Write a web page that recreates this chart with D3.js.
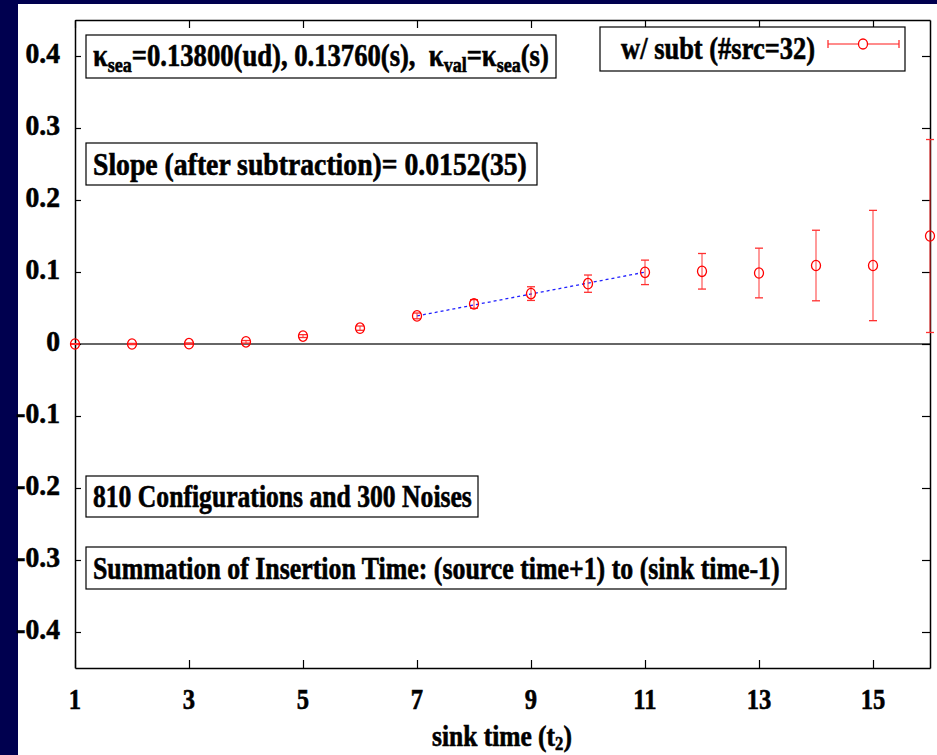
<!DOCTYPE html>
<html><head><meta charset="utf-8">
<script src="https://cdn.jsdelivr.net/npm/d3@7"></script>
<style>
html,body{margin:0;padding:0;background:#00004f;}
svg{display:block;}
text{font-family:"Liberation Serif","Times New Roman",serif;font-weight:bold;fill:#000;stroke:#000;stroke-width:0.6px;}
</style></head>
<body>
<svg id="chart" width="937" height="755"></svg>
<script>
// ---- data ----
const sinkTimes = [1,2,3,4,5,6,7,8,9,10,11,12,13,14,15,16];
const values    = [0,0,0.0005,0.003,0.011,0.022,0.039,0.0556,0.070,0.0838,0.0995,0.101,0.0986,0.109,0.109,0.150];
const errors    = [0.0005,0.0008,0.001,0.0018,0.002,0.003,0.004,0.006,0.0095,0.012,0.017,0.0247,0.0345,0.049,0.0766,0.134];
const fitT      = [7,11];
const fitV      = [0.039,0.0998];
const xTicks    = [1,3,5,7,9,11,13,15];
const yTicks    = [-0.4,-0.3,-0.2,-0.1,0,0.1,0.2,0.3,0.4];
const yTickLabels = ["-0.4","-0.3","-0.2","-0.1","0","0.1","0.2","0.3","0.4"];
const legendLabel = "w/ subt (#src=32)";
const slopeLabel  = "Slope (after subtraction)= 0.0152(35)";
const configLabel = "810 Configurations and 300 Noises";
const sumLabel    = "Summation of Insertion Time: (source time+1) to (sink time-1)";
const xTitle = "sink time (t";

const svg = d3.select("#chart");
svg.append("rect").attr("x",18).attr("y",4).attr("width",919).attr("height",751).attr("fill","#fff");

const L=75,R=930,T=20,B=668;
const x = d3.scaleLinear().domain([1,16]).range([L,R]);
const y = d3.scaleLinear().domain([-0.45,0.45]).range([B,T]);

// zero line
svg.append("line").attr("x1",L).attr("x2",R).attr("y1",y(0)).attr("y2",y(0))
  .attr("stroke","#333").attr("stroke-width",1.6);

// axes (frame) with inward ticks
const axG = svg.append("g");
axG.append("g").attr("transform",`translate(0,${B})`)
  .call(d3.axisBottom(x).tickValues(xTicks).tickSizeInner(-8).tickSizeOuter(0).tickFormat(""));
axG.append("g").attr("transform",`translate(0,${T})`)
  .call(d3.axisTop(x).tickValues(xTicks).tickSizeInner(-8).tickSizeOuter(0).tickFormat(""));
axG.append("g").attr("transform",`translate(${L},0)`)
  .call(d3.axisLeft(y).tickValues(yTicks).tickSizeInner(-6).tickSizeOuter(0).tickFormat(""));
axG.append("g").attr("transform",`translate(${R},0)`)
  .call(d3.axisRight(y).tickValues(yTicks).tickSizeInner(-8).tickSizeOuter(0).tickFormat(""));
axG.selectAll(".domain").attr("stroke","#000").attr("stroke-width",1.5);
axG.selectAll(".tick line").attr("stroke","#000").attr("stroke-width",1.2);

// fit condensed text horizontally
function fit(node, w, anchor){
  const cur = node.getBBox();
  const s = w / cur.width;
  const ax = anchor==="middle" ? cur.x+cur.width/2 : anchor==="end" ? cur.x+cur.width : cur.x;
  d3.select(node).attr("transform",`translate(${ax},0) scale(${s},1) translate(${-ax},0)`);
}

// tick labels
svg.selectAll(".xl").data(xTicks).enter().append("text")
  .attr("x",d=>x(d)).attr("y",709).attr("text-anchor","middle")
  .style("font-size","30px").text(d=>d)
  .each(function(){ fit(this, this.getComputedTextLength()*0.82, "middle"); });
svg.selectAll(".yl").data(yTicks).enter().append("text")
  .attr("x",60).attr("y",d=>y(d)+7).attr("text-anchor","end")
  .style("font-size","30px").text((d,i)=>yTickLabels[i])
  .each(function(){ fit(this, this.getComputedTextLength()*0.92, "end"); });

// boxes with text
function box(x0,y0,w,h){
  svg.append("rect").attr("x",x0).attr("y",y0).attr("width",w).attr("height",h)
    .attr("fill","#fff").attr("stroke","#000").attr("stroke-width",1.2);
}
box(86,35,470,43);
const kt = svg.append("text").attr("x",93).attr("y",66).style("font-size","31px");
kt.append("tspan").text("κ");
kt.append("tspan").attr("dy",6).style("font-size","21px").text("sea");
kt.append("tspan").attr("dy",-6).text("=0.13800(ud), 0.13760(s),\u00a0 κ");
kt.append("tspan").attr("dy",6).style("font-size","21px").text("val");
kt.append("tspan").attr("dy",-6).text("=κ");
kt.append("tspan").attr("dy",6).style("font-size","21px").text("sea");
kt.append("tspan").attr("dy",-6).text("(s)");
fit(kt.node(),456,"start");

box(86,143,451,42);
fit(svg.append("text").attr("x",93).attr("y",175).style("font-size","31px").text(slopeLabel).node(),434,"start");
box(86,476,392,41);
fit(svg.append("text").attr("x",93).attr("y",507).style("font-size","31px").text(configLabel).node(),379,"start");
box(86,547,700,42);
fit(svg.append("text").attr("x",93).attr("y",579).style("font-size","31px").text(sumLabel).node(),687,"start");

// legend
box(600,27,305,44);
fit(svg.append("text").attr("x",815).attr("y",59).attr("text-anchor","end").style("font-size","31px").text(legendLabel).node(),194,"end");
const lg = svg.append("g").attr("stroke","#ff3030").attr("stroke-width",1.3).attr("fill","none");
lg.append("line").attr("x1",828).attr("x2",899).attr("y1",44).attr("y2",44).attr("stroke-opacity",0.75);
lg.append("line").attr("x1",828).attr("x2",828).attr("y1",40).attr("y2",48);
lg.append("line").attr("x1",899).attr("x2",899).attr("y1",40).attr("y2",48);
lg.append("ellipse").attr("cx",863).attr("cy",44).attr("rx",4.5).attr("ry",5).attr("fill","#fff").attr("stroke","#ff0000");

// fit line
svg.append("path").datum(fitT.map((t,i)=>[t,fitV[i]]))
  .attr("d",d3.line().x(d=>x(d[0])).y(d=>y(d[1])))
  .attr("stroke","#2020ff").attr("stroke-width",1.3).attr("stroke-dasharray","3,3").attr("fill","none");

// error bars and markers
const data = sinkTimes.map((t,i)=>({t,v:values[i],e:errors[i]}));
const eg = svg.append("g").attr("stroke","#ff3030").attr("stroke-width",1.3).attr("fill","none");
eg.selectAll(".eb").data(data).enter().append("line")
  .attr("x1",d=>x(d.t)).attr("x2",d=>x(d.t)).attr("y1",d=>y(d.v+d.e)).attr("y2",d=>y(d.v-d.e))
  .attr("stroke-opacity",0.75);
eg.selectAll(".ct").data(data).enter().append("line")
  .attr("x1",d=>x(d.t)-4).attr("x2",d=>x(d.t)+4).attr("y1",d=>y(d.v+d.e)).attr("y2",d=>y(d.v+d.e));
eg.selectAll(".cb").data(data).enter().append("line")
  .attr("x1",d=>x(d.t)-4).attr("x2",d=>x(d.t)+4).attr("y1",d=>y(d.v-d.e)).attr("y2",d=>y(d.v-d.e));
eg.selectAll(".pt").data(data).enter().append("ellipse")
  .attr("cx",d=>x(d.t)).attr("cy",d=>y(d.v)).attr("rx",4.5).attr("ry",5.2)
  .attr("stroke","#ff0000");

// x title
const xt = svg.append("text").attr("x",432).attr("y",746).style("font-size","29px");
xt.append("tspan").text(xTitle);
xt.append("tspan").attr("dy",4).style("font-size","19px").text("2");
xt.append("tspan").attr("dy",-4).text(")");
fit(xt.node(),140,"start");
</script>
</body></html>
